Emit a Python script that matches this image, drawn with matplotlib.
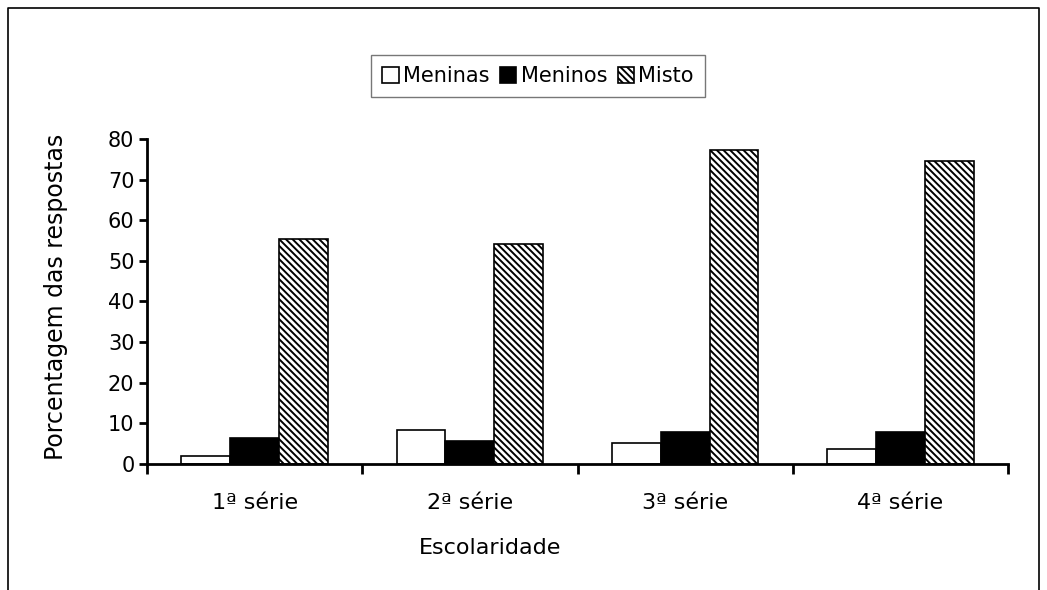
import matplotlib.pyplot as plt
import numpy as np
from matplotlib.lines import Line2D

series = ['1ª série', '2ª série', '3ª série', '4ª série']
meninas = [2.0, 8.4, 5.1, 3.7]
meninos = [6.5, 5.7, 7.8, 7.8]
misto = [55.5, 54.2, 77.4, 74.7]

plt.rcParams['font.family'] = ['DejaVu Sans']
plt.rcParams['hatch.linewidth'] = 1.4

fig = plt.figure(figsize=(10.47, 5.90), dpi=100)
ax = fig.add_axes([0.1404, 0.2136, 0.8224, 0.5508])

x = np.arange(len(series))
w = 0.227
ax.bar(x - w, meninas, w, color='white', edgecolor='black', linewidth=1.2, label='Meninas')
ax.bar(x, meninos, w, color='black', edgecolor='black', linewidth=1.2, label='Meninos')
ax.bar(x + w, misto, w, color='white', edgecolor='black', linewidth=1.2,
       hatch='\\' * 5, label='Misto')

ax.set_xlim(-0.5, len(series) - 0.5)
ax.set_ylim(0, 80)
ax.set_yticks(range(0, 81, 10))
ax.set_xticks(x)
ax.set_xticklabels(series, fontsize=16)
ax.set_xticks(np.arange(-0.5, len(series), 1), minor=True)
ax.tick_params(axis='x', which='major', length=0, pad=21)
ax.tick_params(axis='x', which='minor', length=7, width=2, direction='out')
ax.tick_params(axis='y', labelsize=15, length=6, width=2, pad=3)

for s in ['top', 'right']:
    ax.spines[s].set_visible(False)
for s in ['left', 'bottom']:
    ax.spines[s].set_linewidth(2)

ax.set_ylabel('Porcentagem das respostas', fontsize=17)
ax.yaxis.set_label_coords(-0.092, 0.514)
ax.set_xlabel('Escolaridade', fontsize=16)
ax.xaxis.set_label_coords(0.398, -0.228)

leg = ax.legend(ncol=3, loc='center', bbox_to_anchor=(0.454, 1.194), fontsize=15,
                frameon=True, fancybox=False, edgecolor='#555555',
                handlelength=0.8, handleheight=0.8, handletextpad=0.2,
                columnspacing=0.5, borderpad=0.55)
leg.get_frame().set_linewidth(1.0)

# moldura externa (sem linha embaixo)
fig.add_artist(Line2D([8/1047, 8/1047, 1039/1047, 1039/1047],
                      [0, 1 - 8/590, 1 - 8/590, 0],
                      color='black', linewidth=1.2, transform=fig.transFigure))

fig.savefig('out.png', dpi=100)
